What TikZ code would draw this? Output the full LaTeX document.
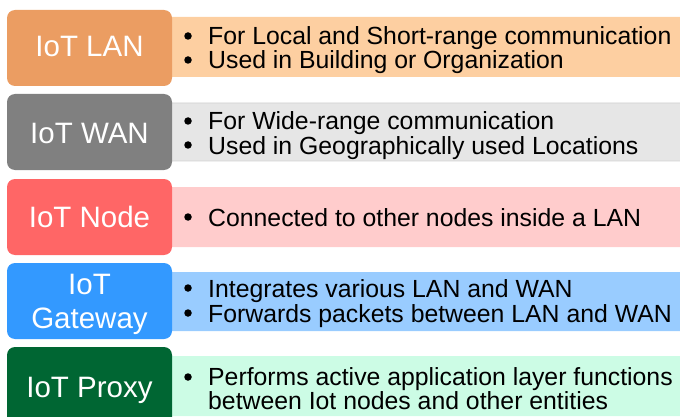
\documentclass[tikz,border=0pt]{standalone}
\usepackage{fontspec}
\setmainfont{Liberation Sans}
\definecolor{lanDark}{HTML}{EB9D62}
\definecolor{lanLight}{HTML}{FDCFA1}
\definecolor{wanDark}{HTML}{808080}
\definecolor{wanLight}{HTML}{E6E6E6}
\definecolor{nodeDark}{HTML}{FF6666}
\definecolor{nodeLight}{HTML}{FFCCCC}
\definecolor{gwDark}{HTML}{3399FF}
\definecolor{gwLight}{HTML}{99CCFF}
\definecolor{pxDark}{HTML}{006633}
\definecolor{pxLight}{HTML}{CCFCE5}
\tikzset{
  titlebox/.style={rounded corners=8pt},
  infobox/.style={rounded corners=3pt},
  titletext/.style={anchor=base, text=white, font=\fontsize{29.5}{34}\selectfont, inner sep=0pt},
  itemtext/.style={anchor=base west, text=black, font=\fontsize{24.8}{25}\selectfont, inner sep=0pt},
  dot/.style={circle, fill=black, inner sep=0pt, minimum size=7.5pt},
}
\begin{document}
\begin{tikzpicture}[x=1pt,y=-1pt]
\useasboundingbox (0,0) rectangle (680,417);

% --- IoT LAN ---
\fill[lanLight, infobox] (168,17) rectangle (690,77);
\fill[lanDark, titlebox] (7,10) rectangle (172,86);
\node[titletext] (lan) at (89.5,57) {IoT LAN};
\node[dot] (lanb1) at (188,36) {};
\node[itemtext] (lant1) at (208,45) {For Local and Short-range communication};
\node[dot] (lanb2) at (188,60) {};
\node[itemtext] (lant2) at (208,69) {Used in Building or Organization};

% --- IoT WAN ---
\filldraw[fill=wanLight, draw=black!18, line width=0.8pt, infobox] (168,103) rectangle (690,161);
\fill[wanDark, titlebox] (7,94) rectangle (172,170);
\node[titletext] (wan) at (89.5,143) {IoT WAN};
\node[dot] (wanb1) at (188,121) {};
\node[itemtext] (want1) at (208,130) {For Wide-range communication};
\node[dot] (wanb2) at (188,145) {};
\node[itemtext] (want2) at (208,154) {Used in Geographically used Locations};

% --- IoT Node ---
\fill[nodeLight, infobox] (168,187) rectangle (690,247);
\fill[nodeDark, titlebox] (7,179) rectangle (172,255);
\node[titletext] (nd) at (89.5,227) {IoT Node};
\node[dot] (ndb1) at (188,217) {};
\node[itemtext] (ndt1) at (208,226) {Connected to other nodes inside a LAN};

% --- IoT Gateway ---
\fill[gwLight, infobox] (168,272) rectangle (690,331);
\fill[gwDark, titlebox] (7,263) rectangle (172,339);
\node[titletext] (gw1) at (89.5,294) {IoT};
\node[titletext] (gw2) at (89.5,328) {Gateway};
\node[dot] (gwb1) at (188,288) {};
\node[itemtext] (gwt1) at (208,297) {Integrates various LAN and WAN};
\node[dot] (gwb2) at (188,313) {};
\node[itemtext] (gwt2) at (208,322) {Forwards packets between LAN and WAN};

% --- IoT Proxy ---
\fill[pxLight, infobox] (168,356) rectangle (690,416);
\fill[pxDark, titlebox] (7,347) rectangle (172,430);
\node[titletext] (px) at (89.5,397) {IoT Proxy};
\node[dot] (pxb1) at (188,377) {};
\node[itemtext] (pxt1) at (208,385.5) {Performs active application layer functions};
\node[itemtext] (pxt2) at (208,409) {between Iot nodes and other entities};
\end{tikzpicture}
\end{document}
